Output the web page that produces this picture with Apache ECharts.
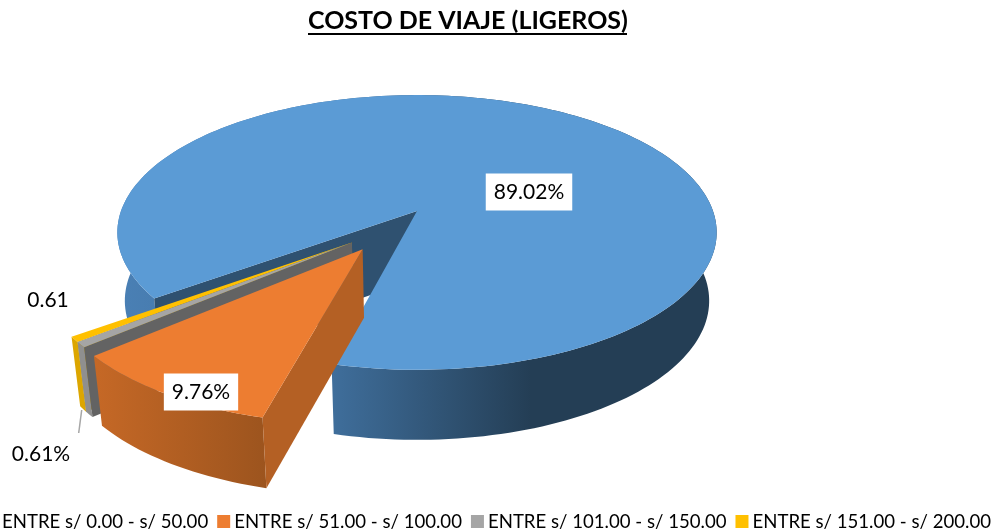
<!DOCTYPE html>
<html><head><meta charset="utf-8">
<style>html,body{margin:0;padding:0;background:#fff;overflow:hidden}#c{width:1000px;height:531px}</style>
<script src="https://cdn.jsdelivr.net/npm/echarts@6/dist/echarts.min.js"></script>
</head><body><div id="c"></div>
<script>
const categories = ['ENTRE s/ 0.00 - s/ 50.00','ENTRE s/ 51.00 - s/ 100.00','ENTRE s/ 101.00 - s/ 150.00','ENTRE s/ 151.00 - s/ 200.00'];
const values = [89.02, 9.76, 0.61, 0.61];
const labelTexts = ['89.02%','9.76%','0.61%','0.61'];
const explode = [0, 0.325, 0.31, 0.31];
const explodeTurn = [0, 1, -7.2, -9.4];
const titleText = 'COSTO DE VIAJE (LIGEROS)';

const topColors = ['#5B9BD5','#ED7D31','#A5A5A5','#FFC000'];
const faceColors = ['#2F5170','#B46024','#636363','#B08600'];
const wallStops = [
  [[0,'#4A80B5'],[0.36,'#3F6E9B'],[0.69,'#243E55'],[1,'#243E55']],
  [[0,'#C56826'],[1,'#9C541E']],
  [[0,'#8F8F8F'],[1,'#8F8F8F']],
  [[0,'#DCA600'],[1,'#DCA600']]
];
const wallRange = [[117,717],[96,268],[70,100],[70,100]];
const labelPos = [[529,192,true],[201,392,true],[41,454,false],[48,300,false]];
const seriesZ = [1,4,3,2];
const view = {cx:417, cy:211, R:296, tilt:134/296, p:0.156, h:68, hk:0.03, converge:0.975, start:53.7};

function project(u,v){
  const s = 1/(1-view.p*v);
  return [view.cx+view.R*u*s, view.cy+view.R*view.tilt*v*s];
}
function lower(u,v){
  const t = project(u,v);
  return [view.cx+(t[0]-view.cx)*view.converge, t[1]+view.h*(1+view.hk*v)];
}
const total = values.reduce((a,b)=>a+b,0);
const spans = [];
(function(){ let a = view.start;
  values.forEach(v=>{ const b = a+v/total*360; spans.push([a,b]); a=b; });
})();
const rad = d=>d*Math.PI/180;
const dir = d=>[-Math.sin(rad(d)),Math.cos(rad(d))];

function renderSlice(i){
  const [a0,a1] = spans[i];
  const m = dir((a0+a1)/2+explodeTurn[i]);
  const ox = m[0]*explode[i], oy = m[1]*explode[i];
  const rim = [];
  const n = Math.max(2,Math.ceil((a1-a0)/1.5));
  for(let k=0;k<=n;k++){ const d=dir(a0+(a1-a0)*k/n); rim.push([d[0]+ox,d[1]+oy]); }
  const topPts = [project(ox,oy)].concat(rim.map(r=>project(r[0],r[1])));
  const wallPts = rim.map(r=>project(r[0],r[1])).concat(rim.slice().reverse().map(r=>lower(r[0],r[1])));
  const first = rim[0];
  const facePts = [project(ox,oy),project(first[0],first[1]),lower(first[0],first[1]),lower(ox,oy)];
  const wr = wallRange[i];
  const kids = [
    {type:'polygon',shape:{points:wallPts},style:{fill:{type:'linear',x:wr[0],y:0,x2:wr[1],y2:0,global:true,
      colorStops:wallStops[i].map(s=>({offset:s[0],color:s[1]}))}}},
    {type:'polygon',shape:{points:facePts},style:{fill:faceColors[i]}},
    {type:'polygon',shape:{points:topPts},style:{fill:topColors[i]}}
  ];
  const lp = labelPos[i];
  kids.push({type:'text',z2:10,style:{text:labelTexts[i],x:lp[0],y:lp[1],align:'center',verticalAlign:'middle',
    font:'21px Lato',fill:'#000',backgroundColor:lp[2]?'#fff':'transparent',padding:lp[2]?[8,8,8,8]:0}});
  return {type:'group',children:kids};
}

const chart = echarts.init(document.getElementById('c'),null,{renderer:'canvas'});
chart.setOption({
  animation:false,
  backgroundColor:'#fff',
  title:{text:titleText,left:308,top:8,padding:0,textStyle:{fontFamily:'Lato',fontWeight:'bold',fontSize:25,color:'#000'}},
  legend:{left:-15,top:512,width:1300,itemWidth:13,itemHeight:13,itemGap:9,icon:'rect',padding:0,orient:'horizontal',
    data:categories,textStyle:{fontFamily:'Lato',fontSize:18.6,color:'#000',padding:[0,0,0,-1]}},
  graphic:[{type:'line',shape:{x1:308,y1:34,x2:627,y2:34},style:{stroke:'#000',lineWidth:2}},
           {type:'line',shape:{x1:81.7,y1:410,x2:78.7,y2:433},style:{stroke:'#A6A6A6',lineWidth:1.5}}],
  series:categories.map((name,i)=>({
    type:'custom',name,coordinateSystem:'none',silent:true,z:seriesZ[i],
    itemStyle:{color:topColors[i]},
    data:[[values[i]]],
    renderItem:()=>renderSlice(i)
  }))
});
</script></body></html>
